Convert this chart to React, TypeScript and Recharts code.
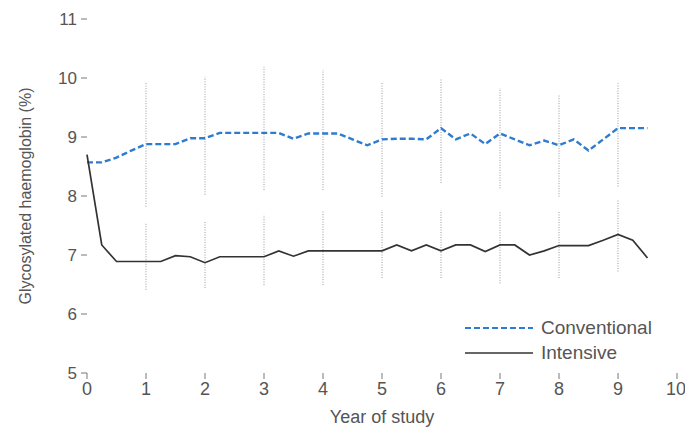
import { LineChart, Line, XAxis, YAxis, ReferenceLine, Legend } from 'recharts'

// quarterly measurements, years 0 – 9.5
const YEARS = [
  0, 0.25, 0.5, 0.75, 1, 1.25, 1.5, 1.75, 2, 2.25, 2.5, 2.75, 3, 3.25, 3.5, 3.75,
  4, 4.25, 4.5, 4.75, 5, 5.25, 5.5, 5.75, 6, 6.25, 6.5, 6.75, 7, 7.25, 7.5, 7.75,
  8, 8.25, 8.5, 8.75, 9, 9.25, 9.5,
]

const CONVENTIONAL = [
  8.57, 8.57, 8.65, 8.77, 8.88, 8.88, 8.88, 8.98, 8.98, 9.07, 9.07, 9.07, 9.07, 9.07, 8.97, 9.06,
  9.06, 9.06, 8.96, 8.86, 8.96, 8.97, 8.97, 8.96, 9.15, 8.96, 9.06, 8.88, 9.06, 8.96, 8.86, 8.94,
  8.86, 8.96, 8.77, 8.96, 9.15, 9.15, 9.15,
]

const INTENSIVE = [
  8.7, 7.17, 6.89, 6.89, 6.89, 6.89, 6.99, 6.97, 6.87, 6.97, 6.97, 6.97, 6.97, 7.07, 6.98, 7.07,
  7.07, 7.07, 7.07, 7.07, 7.07, 7.17, 7.07, 7.17, 7.07, 7.17, 7.17, 7.06, 7.17, 7.17, 7.0, 7.07,
  7.16, 7.16, 7.16, 7.25, 7.35, 7.25, 6.95,
]

// yearly spread (dotted vertical bars)
const BAR_YEARS = [1, 2, 3, 4, 5, 6, 7, 8, 9]
const CONV_LOW = [7.82, 8.02, 8.1, 8.1, 7.99, 8.22, 8.13, 7.99, 8.16]
const CONV_HIGH = [9.94, 10.02, 10.19, 10.14, 9.94, 9.99, 9.83, 9.71, 9.91]
const INT_LOW = [6.41, 6.44, 6.49, 6.49, 6.61, 6.61, 6.52, 6.61, 6.72]
const INT_HIGH = [7.54, 7.56, 7.68, 7.76, 7.76, 7.76, 7.73, 7.73, 7.93]

const X_TICKS = [0, 1, 2, 3, 4, 5, 6, 7, 8, 9, 10]
const Y_TICKS = [5, 6, 7, 8, 9, 10, 11]

const BLUE = '#2f7bd0'
const DARK = '#333333'
const TEXT = '#555555'
const FONT = '"Liberation Sans", Arial, sans-serif'

const data = YEARS.map((year, i) => ({
  year,
  conventional: CONVENTIONAL[i],
  intensive: INTENSIVE[i],
}))

const legendItems = [
  { name: 'Conventional', color: BLUE, dash: '6 3', width: 2.2 },
  { name: 'Intensive', color: DARK, dash: undefined, width: 1.6 },
]

function LegendBox() {
  return (
    <div style={{ fontFamily: FONT }}>
      {legendItems.map((item) => (
        <div key={item.name} style={{ display: 'flex', alignItems: 'center', height: 25 }}>
          <svg width={72} height={10}>
            <line
              x1={0}
              y1={5}
              x2={68}
              y2={5}
              stroke={item.color}
              strokeWidth={item.width}
              strokeDasharray={item.dash}
            />
          </svg>
          <span style={{ fontSize: 19, color: TEXT, marginLeft: 4 }}>{item.name}</span>
        </div>
      ))}
    </div>
  )
}

export default function App() {
  return (
    <div style={{ position: 'absolute', left: 0, top: 0, width: 685, height: 429, background: '#fff' }}>
      <LineChart
        width={685}
        height={429}
        data={data}
        margin={{ top: 19, right: 8, bottom: 6, left: 0 }}
        style={{ fontFamily: FONT }}
      >
        <XAxis
          dataKey="year"
          type="number"
          domain={[0, 10]}
          ticks={X_TICKS}
          axisLine={false}
          tickLine={{ stroke: '#777' }}
          tickSize={6}
          tickMargin={3}
          height={50}
          tick={{ fill: TEXT, fontSize: 18 }}
          label={{ value: 'Year of study', position: 'insideBottom', offset: 0, fill: TEXT, fontSize: 18 }}
        />
        <YAxis
          type="number"
          domain={[5, 11]}
          ticks={Y_TICKS}
          axisLine={false}
          tickLine={{ stroke: '#777' }}
          tickSize={6}
          tickMargin={4}
          width={87}
          tick={{ fill: TEXT, fontSize: 17 }}
          label={{
            value: 'Glycosylated haemoglobin (%)',
            angle: -90,
            position: 'insideLeft',
            offset: 25,
            fill: TEXT,
            fontSize: 16,
            style: { textAnchor: 'middle' },
          }}
        />
        {BAR_YEARS.map((yr, i) => (
          <ReferenceLine
            key={'c' + yr}
            segment={[{ x: yr, y: CONV_LOW[i] }, { x: yr, y: CONV_HIGH[i] }]}
            stroke="#999"
            strokeWidth={1}
            strokeDasharray="1 1.5"
          />
        ))}
        {BAR_YEARS.map((yr, i) => (
          <ReferenceLine
            key={'i' + yr}
            segment={[{ x: yr, y: INT_LOW[i] }, { x: yr, y: INT_HIGH[i] }]}
            stroke="#999"
            strokeWidth={1}
            strokeDasharray="1 1.5"
          />
        ))}
        <Line
          dataKey="conventional"
          stroke={BLUE}
          strokeWidth={2.4}
          strokeDasharray="6 3"
          dot={false}
          isAnimationActive={false}
        />
        <Line
          dataKey="intensive"
          stroke={DARK}
          strokeWidth={1.7}
          dot={false}
          isAnimationActive={false}
        />
        <Legend
          layout="horizontal"
          verticalAlign="middle"
          align="center"
          content={() => <LegendBox />}
          wrapperStyle={{ left: 465, top: 315, width: 210, height: 50 }}
        />
      </LineChart>
    </div>
  )
}
